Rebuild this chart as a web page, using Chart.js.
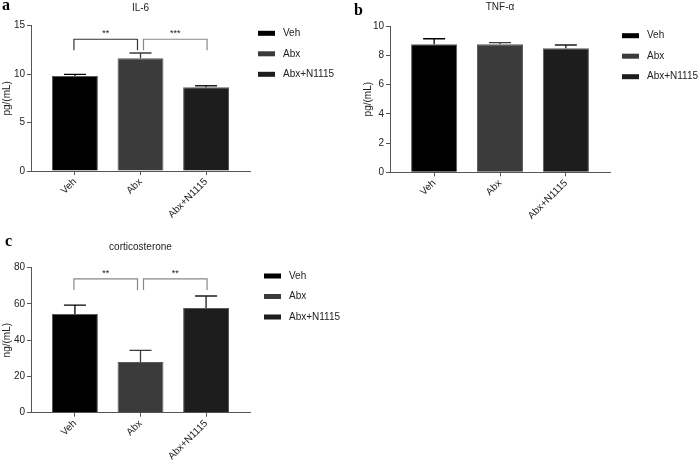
<!DOCTYPE html>
<html>
<head>
<meta charset="utf-8">
<script src="https://cdn.jsdelivr.net/npm/chart.js@4"></script>
<style>
  html, body { margin: 0; padding: 0; background: #fff; }
  body { width: 700px; height: 465px; position: relative; overflow: hidden; }
  canvas { position: absolute; }
</style>
</head>
<body>
<canvas id="painelA" width="350" height="230" style="left:0;top:0"></canvas>
<canvas id="painelB" width="350" height="230" style="left:350px;top:0"></canvas>
<canvas id="painelC" width="350" height="233" style="left:0;top:232px"></canvas>
<script>
// ===== DADOS =====
const grupos = ['Veh', 'Abx', 'Abx+N1115'];

const il6 = [9.8, 11.63, 8.64];
const il6Erro = [0.17, 0.55, 0.16];

const tnf = [8.75, 8.75, 8.48];
const tnfErro = [0.38, 0.12, 0.22];

const cort = [54.4, 28.0, 57.8];
const cortErro = [5.0, 6.4, 6.6];

// [de, ate, altura, rotulo]
const il6Sig = [[0, 1, 13.6, '**'], [1, 2, 13.6, '***']];
const cortSig = [[0, 1, 73.8, '**'], [1, 2, 73.8, '**']];

// ===== ESTILO =====
const cores = ['#000000', '#3b3b3b', '#1d1d1d'];
const fonte = '"Liberation Sans", Arial, sans-serif';
Chart.defaults.font.family = fonte;
Chart.defaults.color = '#222';

// ===== PLUGINS =====
const barrasErro = {
  id: 'barrasErro',
  afterDatasetsDraw(chart, args, opts) {
    const { ctx, scales: { x, y } } = chart;
    const medias = chart.data.datasets[0].data;
    ctx.save();
    ctx.lineWidth = 1.3;
    medias.forEach((p, i) => {
      const px = x.getPixelForValue(p.x);
      const topo = y.getPixelForValue(p.y + opts.erros[i]);
      ctx.strokeStyle = cores[i];
      ctx.beginPath();
      ctx.moveTo(px, y.getPixelForValue(p.y));
      ctx.lineTo(px, topo);
      ctx.moveTo(px - 11, topo);
      ctx.lineTo(px + 11, topo);
      ctx.stroke();
    });
    ctx.restore();
  }
};

const significancia = {
  id: 'significancia',
  afterDatasetsDraw(chart, args, opts) {
    if (!opts.pares) return;
    const { ctx, scales: { x, y } } = chart;
    ctx.save();
    ctx.lineWidth = 1.2;
    opts.pares.forEach((par, k) => {
      const [de, ate, altura, rotulo] = par;
      const x1 = x.getPixelForValue(de) + (de === 1 ? 3 : -1);
      const x2 = x.getPixelForValue(ate) + (ate === 1 ? -3 : 1);
      const yl = y.getPixelForValue(altura);
      ctx.strokeStyle = opts.cores[k];
      ctx.beginPath();
      ctx.moveTo(x1, yl + 11);
      ctx.lineTo(x1, yl);
      ctx.lineTo(x2, yl);
      ctx.lineTo(x2, yl + 11);
      ctx.stroke();
      ctx.fillStyle = '#222';
      ctx.font = '9px ' + fonte;
      ctx.textAlign = 'center';
      ctx.textBaseline = 'alphabetic';
      ctx.fillText(rotulo, (x1 + x2) / 2, yl - 3);
    });
    ctx.restore();
  }
};

const legendaPainel = {
  id: 'legendaPainel',
  afterDraw(chart, args, opts) {
    const { ctx, chartArea } = chart;
    ctx.save();
    ctx.font = '10px ' + fonte;
    ctx.textBaseline = 'middle';
    grupos.forEach((g, i) => {
      const yy = chartArea.top + opts.dy + i * 20.5;
      const xx = chartArea.right + opts.dx;
      ctx.fillStyle = cores[i];
      ctx.fillRect(xx, yy - 2.5, 17, 5);
      ctx.fillStyle = '#222';
      ctx.fillText(g, xx + 25, yy);
    });
    // letra do painel
    ctx.font = 'bold 16px "Liberation Serif", "Times New Roman", serif';
    ctx.textBaseline = 'alphabetic';
    ctx.fillStyle = '#000';
    ctx.fillText(opts.letra, opts.lx, opts.ly);
    ctx.restore();
  }
};

// ===== PAINEL =====
function criarPainel(id, cfg) {
  return new Chart(document.getElementById(id), {
    type: 'bar',
    data: {
      datasets: [{
        data: cfg.valores.map((v, i) => ({ x: i, y: v })),
        backgroundColor: cores,
        borderColor: '#5a5a5a',
        borderWidth: 1,
        barPercentage: 0.7,
        categoryPercentage: 1
      }]
    },
    options: {
      responsive: false,
      animation: false,
      events: [],
      layout: { padding: { right: cfg.direita } },
      plugins: {
        legend: { display: false },
        tooltip: { enabled: false },
        title: {
          display: true,
          text: cfg.titulo,
          fullSize: false,
          color: '#222',
          font: { size: 10, weight: 'normal' },
          padding: { top: cfg.tTopo, bottom: cfg.tBase }
        },
        barrasErro: { erros: cfg.erros },
        significancia: { pares: cfg.sig, cores: cfg.corSig },
        legendaPainel: { dx: cfg.lx, dy: cfg.ly, letra: cfg.letra, lx: cfg.letraX, ly: cfg.letraY }
      },
      scales: {
        x: {
          type: 'linear',
          min: -0.67,
          max: 2.67,
          offset: false,
          afterBuildTicks: s => { s.ticks = grupos.map((g, i) => ({ value: i })); },
          afterFit: s => { s.height = cfg.baixo; },
          ticks: {
            callback: v => grupos[v],
            autoSkip: false,
            minRotation: 45,
            maxRotation: 45,
            padding: 1,
            font: { size: 10 }
          },
          grid: { drawOnChartArea: false, offset: false, tickLength: 4, color: '#555' },
          border: { color: '#555', width: 1 }
        },
        y: {
          min: 0,
          max: cfg.max,
          afterFit: s => { s.width = cfg.esq; },
          ticks: { stepSize: cfg.passo, padding: 2, font: { size: 10 } },
          grid: { drawOnChartArea: false, tickLength: 4, color: '#555' },
          border: { color: '#555', width: 1 },
          title: {
            display: true,
            text: cfg.unidade,
            color: '#222',
            font: { size: 10 },
            padding: { top: cfg.yTitulo, bottom: 0 }
          }
        }
      }
    },
    plugins: [barrasErro, significancia, legendaPainel]
  });
}

criarPainel('painelA', {
  titulo: 'IL-6', unidade: 'pg/(mL)', letra: 'a', letraX: 2, letraY: 10,
  valores: il6, erros: il6Erro, sig: il6Sig, corSig: ['#333', '#888'],
  max: 15, passo: 5, esq: 31, direita: 100, baixo: 59,
  tTopo: 2, tBase: 11.7, yTitulo: 1, lx: 8, ly: 7.6
});

criarPainel('painelB', {
  titulo: 'TNF-α', unidade: 'pg/(mL)', letra: 'b', letraX: 4, letraY: 15,
  valores: tnf, erros: tnfErro, sig: null, corSig: [],
  max: 10, passo: 2, esq: 40, direita: 90, baixo: 57.7,
  tTopo: 1, tBase: 13, yTitulo: 12, lx: 12, ly: 9.7
});

criarPainel('painelC', {
  titulo: 'corticosterone', unidade: 'ng/(mL)', letra: 'c', letraX: 5, letraY: 14,
  valores: cort, erros: cortErro, sig: cortSig, corSig: ['#888', '#888'],
  max: 80, passo: 20, esq: 31, direita: 100, baixo: 52.3,
  tTopo: 9.5, tBase: 14.2, yTitulo: 1, lx: 14, ly: 8.3
});
</script>
</body>
</html>
